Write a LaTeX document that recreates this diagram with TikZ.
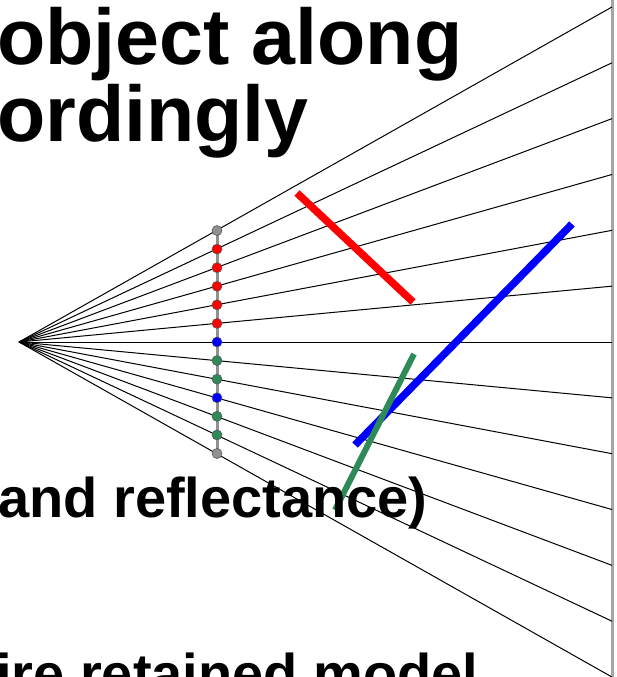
\documentclass[tikz,border=0pt]{standalone}
\usepackage{fontspec}
\setmainfont{Liberation Sans}
\usetikzlibrary{calc}
\definecolor{rojo}{RGB}{255,0,0}
\definecolor{azul}{RGB}{0,0,255}
\definecolor{verde}{RGB}{46,139,87}
\definecolor{gris}{RGB}{145,145,145}
\definecolor{grisclaro}{RGB}{165,165,165}

\begin{document}
\begin{tikzpicture}[x=1pt, y=-1pt,
  punto/.style={circle, draw=black!65, line width=0.6pt, inner sep=0pt,
    minimum size=10pt},
  rayo/.style={draw=black, line width=1pt},
  barra/.style={line width=7.5pt},
  titulo/.style={anchor=base west, inner sep=0pt,
    font=\fontsize{79}{79}\selectfont\bfseries},
  texto/.style={anchor=base west, inner sep=0pt,
    font=\fontsize{56}{56}\selectfont\bfseries}
]
\useasboundingbox (0,0) rectangle (616,677);
\clip (0,0) rectangle (616,677);
% Pantalla
\draw[grisclaro, line width=3pt] (612,0) -- (612,680);
% Rayos desde el foco
\coordinate (foco) at (19,342);
\foreach \k in {0,...,12} {
  \coordinate (s\k) at (612,{342+(\k-6)*55.84});
  \draw[rayo] (foco) -- (s\k);
}
% Plano imagen
\draw[gris, line width=3pt] (217,231) -- (217,454);
\foreach \k/\c in {0/gris,1/rojo,2/rojo,3/rojo,4/rojo,5/rojo,6/azul,
  7/verde,8/verde,9/azul,10/verde,11/verde,12/gris}
  \node[punto, fill=\c] (p\k) at (217,{342+(\k-6)*18.58}) {};
% Objetos
\draw[barra, rojo] (297,193) -- (413,302);
\draw[barra, azul] (572,224) -- (355,445);
\draw[barra, verde, line width=6pt] (414,354) -- (335,510);
% Texto
\node[titulo] (t1) at (-3,64) {object along};
\node[titulo] (t2) at (-3,141) {ordingly};
\node[texto] (t3) at (-2,517) {and reflectance)};
\node[texto] (t4) at (-4,693) {ire retained model};
\end{tikzpicture}
\end{document}
